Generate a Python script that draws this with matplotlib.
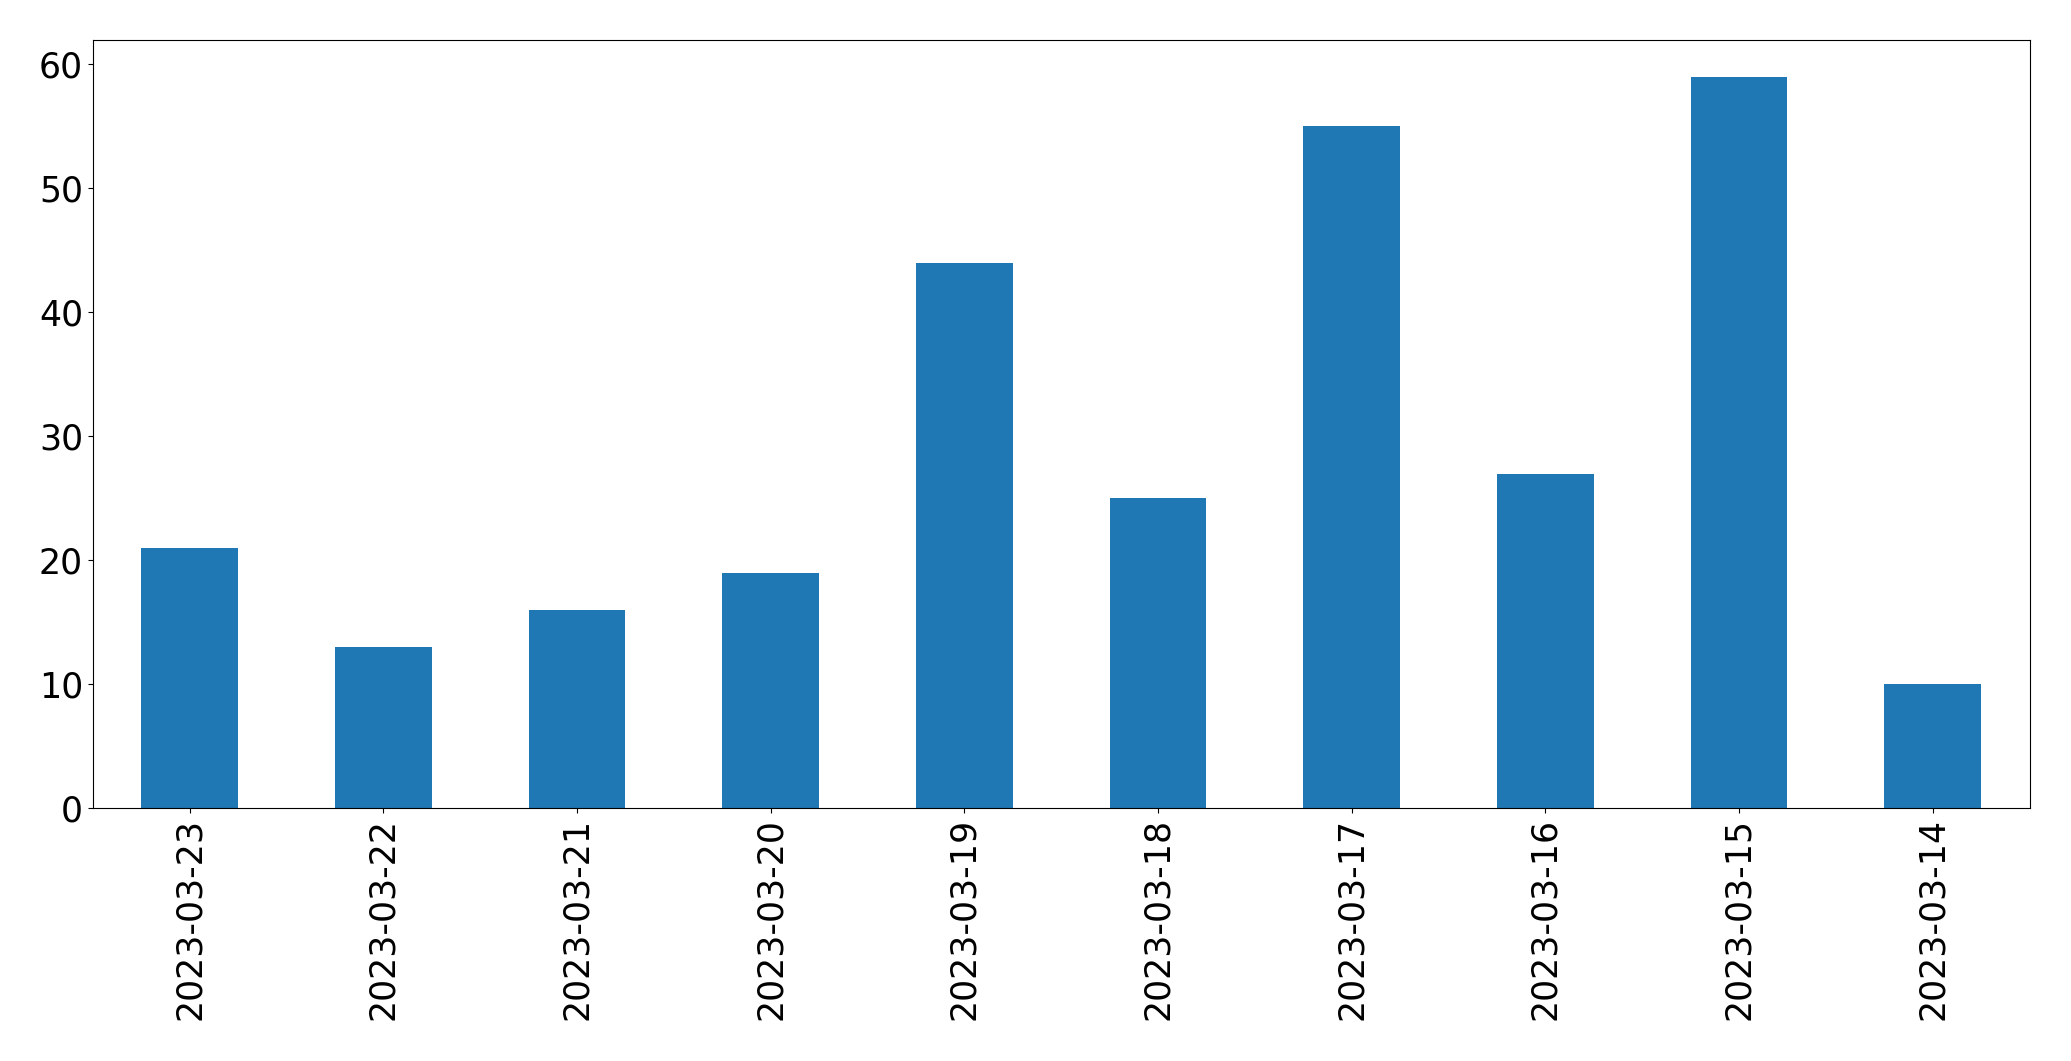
import matplotlib
matplotlib.use('Agg')
import matplotlib.pyplot as plt
import numpy as np

dates = ['2023-03-23', '2023-03-22', '2023-03-21', '2023-03-20', '2023-03-19',
         '2023-03-18', '2023-03-17', '2023-03-16', '2023-03-15', '2023-03-14']
counts = [21, 13, 16, 19, 44, 25, 55, 27, 59, 10]

fig = plt.figure(figsize=(20.71, 10.61), dpi=100)
ax = fig.add_axes([0.0448, 0.238, 0.9352, 0.724])
x = np.arange(len(dates))
ax.bar(x, counts, width=0.5, color='#1f77b4')
ax.set_xlim(-0.5, len(dates) - 0.5)
ax.set_xticks(x)
ax.set_xticklabels(dates, rotation=90)
ax.tick_params(labelsize=25)
plt.savefig('out.png', dpi=100)
